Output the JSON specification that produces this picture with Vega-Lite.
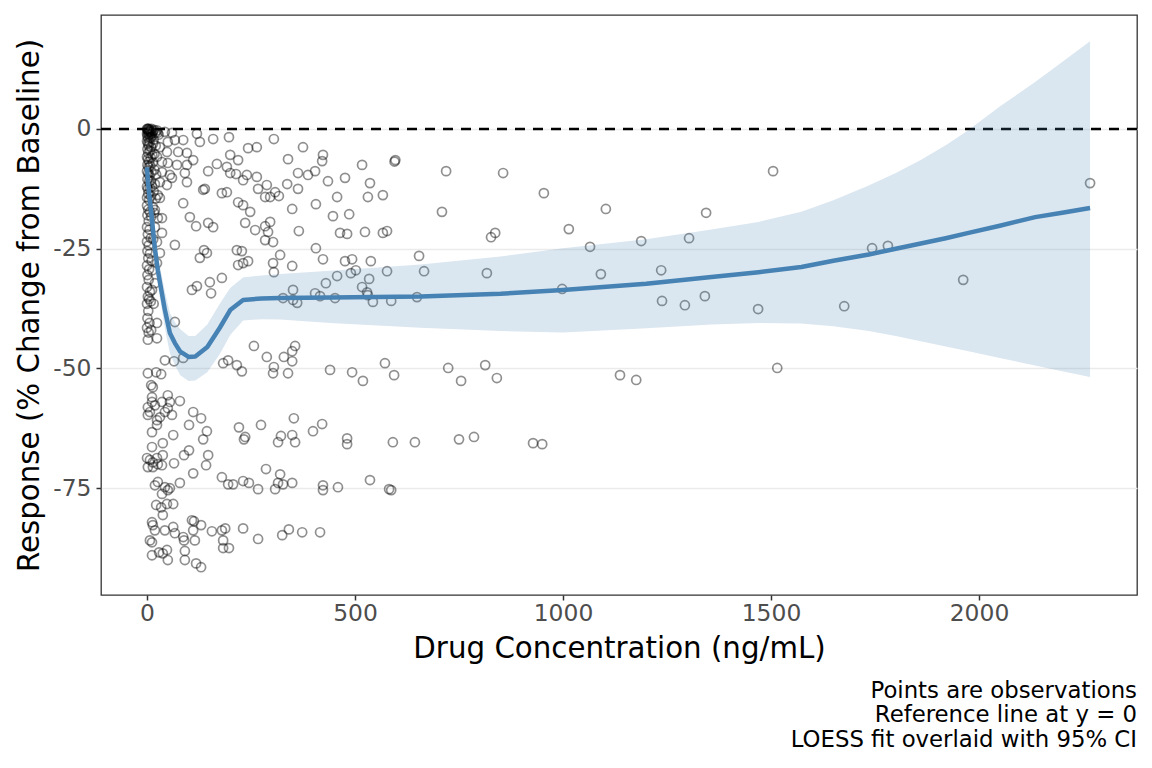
{
  "$schema": "https://vega.github.io/schema/vega-lite/v6.json",
  "width": 1036,
  "height": 580,
  "autosize": {"type": "none"},
  "padding": {"left": 101, "top": 15, "right": 15, "bottom": 173},
  "background": "white",
  "title": {
    "text": ["Points are observations", "Reference line at y = 0", "LOESS fit overlaid with 95% CI"],
    "orient": "bottom",
    "anchor": "end",
    "frame": "group",
    "font": "DejaVu Sans",
    "fontSize": 22.8,
    "fontWeight": "normal",
    "color": "#000000",
    "lineHeight": 24.5,
    "offset": 16
  },
  "datasets": {
    "ref": [{"ref": 0}],
    "fit": [
      {"conc": 0, "fit": -8, "lo": -10, "hi": -6},
      {"conc": 2.4, "fit": -11, "lo": -13, "hi": -9},
      {"conc": 7, "fit": -15, "lo": -17.3, "hi": -12.8},
      {"conc": 12, "fit": -19, "lo": -21.5, "hi": -16.5},
      {"conc": 19, "fit": -25, "lo": -27.8, "hi": -22.2},
      {"conc": 26, "fit": -29.5, "lo": -32.6, "hi": -26.4},
      {"conc": 43, "fit": -37.8, "lo": -41.6, "hi": -34},
      {"conc": 55, "fit": -42.6, "lo": -46.8, "hi": -38.4},
      {"conc": 67, "fit": -44.7, "lo": -49.3, "hi": -40.3},
      {"conc": 80, "fit": -46.5, "lo": -51.4, "hi": -41.8},
      {"conc": 100, "fit": -47.6, "lo": -52.6, "hi": -43.2},
      {"conc": 116, "fit": -47.5, "lo": -52.5, "hi": -43.2},
      {"conc": 145, "fit": -45.5, "lo": -50.8, "hi": -40.8},
      {"conc": 175, "fit": -41.5, "lo": -47, "hi": -36.5},
      {"conc": 200, "fit": -37.8, "lo": -43, "hi": -33.2},
      {"conc": 231, "fit": -35.7, "lo": -40, "hi": -31},
      {"conc": 275, "fit": -35.4, "lo": -39.7, "hi": -30.6},
      {"conc": 320, "fit": -35.3, "lo": -39.8, "hi": -30.3},
      {"conc": 441, "fit": -35.2, "lo": -40.5, "hi": -29.6},
      {"conc": 658, "fit": -35.0, "lo": -41.5, "hi": -28.3},
      {"conc": 850, "fit": -34.4, "lo": -42.2, "hi": -26.6},
      {"conc": 1000, "fit": -33.6, "lo": -42.5, "hi": -24.9},
      {"conc": 1200, "fit": -32.3, "lo": -41.6, "hi": -23.0},
      {"conc": 1357, "fit": -30.9, "lo": -40.8, "hi": -21.0},
      {"conc": 1470, "fit": -29.9, "lo": -40.5, "hi": -19.4},
      {"conc": 1573, "fit": -28.8, "lo": -40.6, "hi": -17.3},
      {"conc": 1650, "fit": -27.5, "lo": -41.2, "hi": -14.9},
      {"conc": 1735, "fit": -26.2, "lo": -42.2, "hi": -11.8},
      {"conc": 1800, "fit": -25.0, "lo": -43.2, "hi": -9.2},
      {"conc": 1860, "fit": -23.9, "lo": -44.3, "hi": -6.5},
      {"conc": 1920, "fit": -22.8, "lo": -45.4, "hi": -3.4},
      {"conc": 1975, "fit": -21.7, "lo": -46.4, "hi": -0.2},
      {"conc": 2050, "fit": -20.2, "lo": -47.8, "hi": 4.7},
      {"conc": 2135, "fit": -18.4, "lo": -49.4, "hi": 9.8},
      {"conc": 2200, "fit": -17.5, "lo": -50.6, "hi": 14},
      {"conc": 2267, "fit": -16.5, "lo": -51.8, "hi": 18.3}
    ],
    "obs": [
      {"conc": 0, "resp": 0}, {"conc": 1, "resp": 0}, {"conc": 2, "resp": -0.3}, {"conc": 3, "resp": 0}, {"conc": 4, "resp": -0.5},
      {"conc": 5, "resp": 0}, {"conc": 7, "resp": -0.2}, {"conc": 9, "resp": -0.6}, {"conc": 11, "resp": 0}, {"conc": 14, "resp": -0.4},
      {"conc": 17, "resp": -0.2}, {"conc": 20, "resp": -0.8}, {"conc": 0, "resp": -1}, {"conc": 1, "resp": -1.5}, {"conc": 3, "resp": -2},
      {"conc": 5, "resp": -1.2}, {"conc": 8, "resp": -1.8}, {"conc": 12, "resp": -1.5}, {"conc": 2, "resp": -0.8}, {"conc": 6, "resp": -0.5},
      {"conc": 10, "resp": -1}, {"conc": 24, "resp": -0.3}, {"conc": 28, "resp": -1.2},
      {"conc": 13, "resp": -0.8}, {"conc": 16, "resp": -2.2}, {"conc": 21, "resp": -3.5}, {"conc": 14, "resp": -7}, {"conc": 18, "resp": -5.2},
      {"conc": 22, "resp": -9.5}, {"conc": 17, "resp": -17.5}, {"conc": 21, "resp": -14.5}, {"conc": 15, "resp": -23}, {"conc": 13, "resp": -29.5},
      {"conc": 16, "resp": -36.5}, {"conc": 10, "resp": -42},
      {"conc": 0, "resp": -2.5}, {"conc": 2, "resp": -3}, {"conc": 4, "resp": -3.5}, {"conc": 6, "resp": -2.8}, {"conc": 1, "resp": -4.2},
      {"conc": 3, "resp": -5}, {"conc": 7, "resp": -4.5}, {"conc": 10, "resp": -3.8}, {"conc": 0, "resp": -5.8}, {"conc": 2, "resp": -6.3},
      {"conc": 5, "resp": -6.8}, {"conc": 9, "resp": -6}, {"conc": 13, "resp": -5.5}, {"conc": 1, "resp": -7.5}, {"conc": 4, "resp": -8},
      {"conc": 8, "resp": -7.7}, {"conc": 0, "resp": -8.8}, {"conc": 3, "resp": -9.3}, {"conc": 6, "resp": -9.7}, {"conc": 11, "resp": -9},
      {"conc": 1, "resp": -10.5}, {"conc": 5, "resp": -11}, {"conc": 9, "resp": -10.8}, {"conc": 0, "resp": -12}, {"conc": 2, "resp": -12.5},
      {"conc": 7, "resp": -12.3}, {"conc": 12, "resp": -12}, {"conc": 3, "resp": -13.5}, {"conc": 0, "resp": -14.3}, {"conc": 5, "resp": -14.8},
      {"conc": 9, "resp": -14}, {"conc": 16, "resp": -13}, {"conc": 18, "resp": -8.5}, {"conc": 15, "resp": -3}, {"conc": 19, "resp": -11.5},
      {"conc": 0, "resp": -16}, {"conc": 3, "resp": -16.8}, {"conc": 7, "resp": -17.3}, {"conc": 1, "resp": -18}, {"conc": 10, "resp": -18.3},
      {"conc": 4, "resp": -19.2}, {"conc": 0, "resp": -20.5}, {"conc": 6, "resp": -21}, {"conc": 2, "resp": -22}, {"conc": 9, "resp": -22.8},
      {"conc": 0, "resp": -23.5}, {"conc": 4, "resp": -24.3}, {"conc": 1, "resp": -25.5}, {"conc": 7, "resp": -26}, {"conc": 3, "resp": -27},
      {"conc": 0, "resp": -28.5}, {"conc": 5, "resp": -29.3}, {"conc": 11, "resp": -27.5},
      {"conc": 1, "resp": -30.5}, {"conc": 4, "resp": -31.5}, {"conc": 0, "resp": -33}, {"conc": 7, "resp": -34}, {"conc": 2, "resp": -35},
      {"conc": 5, "resp": -35.5}, {"conc": 0, "resp": -36.5}, {"conc": 9, "resp": -36}, {"conc": 3, "resp": -38}, {"conc": 1, "resp": -39.5},
      {"conc": 6, "resp": -40.5}, {"conc": 0, "resp": -41.5}, {"conc": 4, "resp": -42.5}, {"conc": 2, "resp": -44},
      {"conc": 26, "resp": -0.8}, {"conc": 43, "resp": -0.6}, {"conc": 60, "resp": -0.8}, {"conc": 50, "resp": -2.7}, {"conc": 67, "resp": -2.3},
      {"conc": 31, "resp": -3.8}, {"conc": 48, "resp": -4.8}, {"conc": 75, "resp": -4.8}, {"conc": 24, "resp": -5.8}, {"conc": 36, "resp": -6.9},
      {"conc": 50, "resp": -7.1}, {"conc": 72, "resp": -7.5}, {"conc": 36, "resp": -9.0}, {"conc": 55, "resp": -9.6}, {"conc": 60, "resp": -10.2},
      {"conc": 31, "resp": -11.1}, {"conc": 48, "resp": -11.7}, {"conc": 26, "resp": -13.8}, {"conc": 31, "resp": -14.4}, {"conc": 14, "resp": -16.3},
      {"conc": 19, "resp": -16.9}, {"conc": 26, "resp": -18.6}, {"conc": 36, "resp": -18.6}, {"conc": 19, "resp": -20.5}, {"conc": 36, "resp": -21.7},
      {"conc": 24, "resp": -23.6}, {"conc": 31, "resp": -25.9}, {"conc": 24, "resp": -28.0}, {"conc": 67, "resp": -24.2}, {"conc": 19, "resp": -32.2},
      {"conc": 12, "resp": -33.6}, {"conc": 24, "resp": -40.5}, {"conc": 67, "resp": -40.3}, {"conc": 24, "resp": -43.7},
      {"conc": 87, "resp": -2.3}, {"conc": 120, "resp": -1.0}, {"conc": 127, "resp": -2.7}, {"conc": 159, "resp": -2.1}, {"conc": 197, "resp": -1.7},
      {"conc": 243, "resp": -4.0}, {"conc": 264, "resp": -3.8}, {"conc": 305, "resp": -2.1}, {"conc": 375, "resp": -3.8}, {"conc": 423, "resp": -5.4},
      {"conc": 339, "resp": -6.3}, {"conc": 421, "resp": -6.7}, {"conc": 96, "resp": -5.0}, {"conc": 111, "resp": -6.5}, {"conc": 96, "resp": -7.5},
      {"conc": 168, "resp": -7.3}, {"conc": 200, "resp": -5.4}, {"conc": 219, "resp": -6.5}, {"conc": 192, "resp": -7.9}, {"conc": 200, "resp": -9.2},
      {"conc": 214, "resp": -9.4}, {"conc": 240, "resp": -9.6}, {"conc": 264, "resp": -10.0}, {"conc": 231, "resp": -10.7}, {"conc": 147, "resp": -8.8},
      {"conc": 91, "resp": -9.2}, {"conc": 96, "resp": -11.1}, {"conc": 363, "resp": -9.2}, {"conc": 387, "resp": -9.6}, {"conc": 404, "resp": -8.8},
      {"conc": 517, "resp": -7.5}, {"conc": 595, "resp": -6.8}, {"conc": 597, "resp": -6.5}, {"conc": 337, "resp": -11.5}, {"conc": 363, "resp": -12.5},
      {"conc": 435, "resp": -10.9}, {"conc": 476, "resp": -10.2}, {"conc": 536, "resp": -11.3}, {"conc": 267, "resp": -12.5}, {"conc": 288, "resp": -11.7},
      {"conc": 308, "resp": -13.2}, {"conc": 284, "resp": -14.2}, {"conc": 296, "resp": -14.2}, {"conc": 317, "resp": -14.0}, {"conc": 180, "resp": -13.4},
      {"conc": 192, "resp": -13.2}, {"conc": 139, "resp": -12.5}, {"conc": 135, "resp": -12.7}, {"conc": 457, "resp": -14.2}, {"conc": 531, "resp": -14.2},
      {"conc": 567, "resp": -13.8}, {"conc": 87, "resp": -15.5}, {"conc": 219, "resp": -15.3}, {"conc": 231, "resp": -15.9}, {"conc": 248, "resp": -17.3},
      {"conc": 349, "resp": -16.7}, {"conc": 406, "resp": -15.7}, {"conc": 447, "resp": -18.2}, {"conc": 486, "resp": -17.8}, {"conc": 103, "resp": -18.4},
      {"conc": 118, "resp": -20.3}, {"conc": 147, "resp": -19.6}, {"conc": 159, "resp": -20.5}, {"conc": 236, "resp": -19.6}, {"conc": 260, "resp": -21.1},
      {"conc": 284, "resp": -20.3}, {"conc": 296, "resp": -19.4}, {"conc": 291, "resp": -21.5}, {"conc": 284, "resp": -23.2}, {"conc": 303, "resp": -23.6},
      {"conc": 365, "resp": -21.3}, {"conc": 464, "resp": -21.7}, {"conc": 481, "resp": -21.9}, {"conc": 524, "resp": -21.5}, {"conc": 567, "resp": -21.7},
      {"conc": 577, "resp": -21.3}, {"conc": 127, "resp": -26.9}, {"conc": 137, "resp": -25.3}, {"conc": 144, "resp": -25.9}, {"conc": 216, "resp": -25.3},
      {"conc": 228, "resp": -25.5}, {"conc": 219, "resp": -28.4}, {"conc": 231, "resp": -28.0}, {"conc": 243, "resp": -27.6}, {"conc": 303, "resp": -28.0},
      {"conc": 305, "resp": -29.9}, {"conc": 320, "resp": -26.3}, {"conc": 349, "resp": -28.6}, {"conc": 406, "resp": -24.9}, {"conc": 423, "resp": -27.2},
      {"conc": 476, "resp": -27.6}, {"conc": 493, "resp": -27.2}, {"conc": 490, "resp": -30.1}, {"conc": 502, "resp": -29.5}, {"conc": 538, "resp": -27.6},
      {"conc": 577, "resp": -29.7}, {"conc": 457, "resp": -30.7}, {"conc": 430, "resp": -32.2}, {"conc": 517, "resp": -33.0}, {"conc": 534, "resp": -31.3},
      {"conc": 529, "resp": -34.1}, {"conc": 531, "resp": -34.7}, {"conc": 543, "resp": -36.1}, {"conc": 587, "resp": -35.9}, {"conc": 108, "resp": -33.6},
      {"conc": 120, "resp": -32.8}, {"conc": 151, "resp": -32.0}, {"conc": 154, "resp": -34.3}, {"conc": 180, "resp": -31.1}, {"conc": 327, "resp": -35.3},
      {"conc": 351, "resp": -33.6}, {"conc": 351, "resp": -35.7}, {"conc": 361, "resp": -36.3}, {"conc": 404, "resp": -34.3}, {"conc": 416, "resp": -34.9},
      {"conc": 452, "resp": -35.3},
      {"conc": 257, "resp": -45.3}, {"conc": 288, "resp": -47.6}, {"conc": 329, "resp": -47.6}, {"conc": 349, "resp": -46.4}, {"conc": 356, "resp": -45.3},
      {"conc": 349, "resp": -48.5}, {"conc": 183, "resp": -48.9}, {"conc": 195, "resp": -48.3}, {"conc": 216, "resp": -49.3}, {"conc": 228, "resp": -50.6},
      {"conc": 305, "resp": -49.7}, {"conc": 303, "resp": -51.0}, {"conc": 339, "resp": -51.0}, {"conc": 440, "resp": -50.3}, {"conc": 493, "resp": -50.8},
      {"conc": 519, "resp": -52.6}, {"conc": 572, "resp": -48.9}, {"conc": 594, "resp": -51.4}, {"conc": 87, "resp": -47.8},
      {"conc": 79, "resp": -56.8}, {"conc": 111, "resp": -59.1}, {"conc": 130, "resp": -60.4}, {"conc": 101, "resp": -61.8}, {"conc": 144, "resp": -63.1},
      {"conc": 135, "resp": -64.8}, {"conc": 221, "resp": -62.3}, {"conc": 274, "resp": -61.8}, {"conc": 236, "resp": -64.3}, {"conc": 233, "resp": -64.8},
      {"conc": 353, "resp": -60.4}, {"conc": 322, "resp": -64.1}, {"conc": 315, "resp": -65.4}, {"conc": 349, "resp": -63.9}, {"conc": 356, "resp": -65.4},
      {"conc": 399, "resp": -63.1}, {"conc": 421, "resp": -61.6}, {"conc": 481, "resp": -64.6}, {"conc": 481, "resp": -65.8}, {"conc": 591, "resp": -65.4},
      {"conc": 101, "resp": -67.1}, {"conc": 89, "resp": -68.1}, {"conc": 147, "resp": -68.1}, {"conc": 142, "resp": -70.2}, {"conc": 111, "resp": -71.9},
      {"conc": 180, "resp": -72.7}, {"conc": 195, "resp": -74.2}, {"conc": 207, "resp": -74.2}, {"conc": 231, "resp": -73.5}, {"conc": 245, "resp": -73.9},
      {"conc": 267, "resp": -75.2}, {"conc": 286, "resp": -71.0}, {"conc": 320, "resp": -72.1}, {"conc": 308, "resp": -75.2}, {"conc": 315, "resp": -73.9},
      {"conc": 327, "resp": -74.2}, {"conc": 349, "resp": -73.9}, {"conc": 423, "resp": -74.4}, {"conc": 423, "resp": -75.4}, {"conc": 459, "resp": -74.8},
      {"conc": 536, "resp": -73.3}, {"conc": 582, "resp": -75.2}, {"conc": 587, "resp": -75.4}, {"conc": 79, "resp": -73.9},
      {"conc": 108, "resp": -81.7}, {"conc": 113, "resp": -81.9}, {"conc": 130, "resp": -82.7}, {"conc": 111, "resp": -83.8}, {"conc": 87, "resp": -85.2},
      {"conc": 89, "resp": -85.9}, {"conc": 115, "resp": -85.9}, {"conc": 156, "resp": -84.0}, {"conc": 180, "resp": -83.8}, {"conc": 188, "resp": -83.4},
      {"conc": 183, "resp": -85.9}, {"conc": 183, "resp": -87.5}, {"conc": 197, "resp": -87.5}, {"conc": 231, "resp": -83.4}, {"conc": 267, "resp": -85.6},
      {"conc": 325, "resp": -84.8}, {"conc": 341, "resp": -83.6}, {"conc": 373, "resp": -84.2}, {"conc": 416, "resp": -84.2}, {"conc": 91, "resp": -88.1},
      {"conc": 91, "resp": -90.0}, {"conc": 118, "resp": -90.7}, {"conc": 130, "resp": -91.5},
      {"conc": 2, "resp": -51.0}, {"conc": 22, "resp": -50.8}, {"conc": 34, "resp": -51.2}, {"conc": 43, "resp": -48.3}, {"conc": 65, "resp": -48.5},
      {"conc": 10, "resp": -53.5}, {"conc": 14, "resp": -53.9}, {"conc": 12, "resp": -56.0}, {"conc": 12, "resp": -57.0}, {"conc": 2, "resp": -58.1},
      {"conc": 7, "resp": -59.1}, {"conc": 2, "resp": -59.7}, {"conc": 19, "resp": -57.7}, {"conc": 36, "resp": -57.0}, {"conc": 50, "resp": -55.6},
      {"conc": 55, "resp": -57.0}, {"conc": 50, "resp": -58.3}, {"conc": 43, "resp": -59.1}, {"conc": 31, "resp": -60.2}, {"conc": 24, "resp": -60.8},
      {"conc": 60, "resp": -59.7}, {"conc": 12, "resp": -63.3}, {"conc": 24, "resp": -61.8}, {"conc": 38, "resp": -65.6}, {"conc": 12, "resp": -66.4},
      {"conc": 63, "resp": -63.9}, {"conc": 0, "resp": -68.7}, {"conc": 7, "resp": -69.1}, {"conc": 14, "resp": -69.6}, {"conc": 24, "resp": -68.7},
      {"conc": 2, "resp": -70.6}, {"conc": 14, "resp": -70.6}, {"conc": 26, "resp": -70.0}, {"conc": 36, "resp": -70.2}, {"conc": 38, "resp": -68.1},
      {"conc": 65, "resp": -69.8}, {"conc": 19, "resp": -74.4}, {"conc": 26, "resp": -73.7}, {"conc": 43, "resp": -74.8}, {"conc": 50, "resp": -75.4},
      {"conc": 55, "resp": -75.0}, {"conc": 36, "resp": -76.2}, {"conc": 22, "resp": -78.5}, {"conc": 34, "resp": -79.0}, {"conc": 48, "resp": -78.3},
      {"conc": 63, "resp": -78.3}, {"conc": 38, "resp": -80.6}, {"conc": 12, "resp": -82.1}, {"conc": 14, "resp": -82.7}, {"conc": 19, "resp": -83.8},
      {"conc": 7, "resp": -85.9}, {"conc": 12, "resp": -86.3}, {"conc": 43, "resp": -83.8}, {"conc": 63, "resp": -83.1}, {"conc": 67, "resp": -84.4},
      {"conc": 12, "resp": -89.0}, {"conc": 29, "resp": -88.4}, {"conc": 38, "resp": -88.6}, {"conc": 48, "resp": -87.9}, {"conc": 50, "resp": -90.0},
      {"conc": 856, "resp": -9.2}, {"conc": 719, "resp": -8.8}, {"conc": 709, "resp": -17.3}, {"conc": 954, "resp": -13.4}, {"conc": 1103, "resp": -16.7},
      {"conc": 1014, "resp": -20.9}, {"conc": 827, "resp": -22.6}, {"conc": 837, "resp": -21.7}, {"conc": 1065, "resp": -24.6}, {"conc": 1188, "resp": -23.4},
      {"conc": 1303, "resp": -22.8}, {"conc": 654, "resp": -26.5}, {"conc": 666, "resp": -29.7}, {"conc": 817, "resp": -30.1}, {"conc": 1091, "resp": -30.3},
      {"conc": 1236, "resp": -29.5}, {"conc": 649, "resp": -35.1}, {"conc": 998, "resp": -33.4}, {"conc": 1238, "resp": -35.9}, {"conc": 1293, "resp": -36.8},
      {"conc": 724, "resp": -49.9}, {"conc": 755, "resp": -52.6}, {"conc": 813, "resp": -49.3}, {"conc": 841, "resp": -52.0}, {"conc": 1137, "resp": -51.4},
      {"conc": 1176, "resp": -52.4}, {"conc": 644, "resp": -65.4}, {"conc": 750, "resp": -64.8}, {"conc": 786, "resp": -64.3}, {"conc": 928, "resp": -65.6},
      {"conc": 950, "resp": -65.8}, {"conc": 1505, "resp": -8.8}, {"conc": 1344, "resp": -17.5}, {"conc": 1341, "resp": -34.9}, {"conc": 1469, "resp": -37.6},
      {"conc": 1676, "resp": -37.0}, {"conc": 1743, "resp": -24.9}, {"conc": 1781, "resp": -24.4}, {"conc": 1962, "resp": -31.5}, {"conc": 2267, "resp": -11.3},
      {"conc": 1515, "resp": -49.9}
    ]
  },
  "layer": [
    {
      "data": {"name": "ref"},
      "mark": {"type": "rule", "color": "#000000", "strokeWidth": 2.3, "strokeDash": [10, 8]},
      "encoding": {
        "y": {"field": "ref", "type": "quantitative", "title": "Response (% Change from Baseline)"}
      }
    },
    {
      "data": {"name": "obs"},
      "mark": {"type": "point", "shape": "circle", "filled": false, "stroke": "#000000", "strokeOpacity": 0.62, "strokeWidth": 1.7, "size": 82},
      "encoding": {
        "x": {
          "field": "conc", "type": "quantitative", "title": "Drug Concentration (ng/mL)",
          "scale": {"domain": [-110.6, 2379.8], "nice": false, "zero": false},
          "axis": {"values": [0, 500, 1000, 1500, 2000], "format": "d", "grid": false, "labelPadding": 2, "titlePadding": 10}
        },
        "y": {
          "field": "resp", "type": "quantitative", "title": "Response (% Change from Baseline)",
          "scale": {"domain": [-97.3, 23.8], "nice": false, "zero": false},
          "axis": {"values": [-75, -50, -25, 0], "grid": true, "labelPadding": 5, "titlePadding": 8, "labelExpr": "replace(datum.label, '\u2212', '-')"}
        }
      }
    },
    {
      "data": {"name": "fit"},
      "mark": {"type": "area", "color": "#4682B4", "opacity": 0.2},
      "encoding": {
        "x": {"field": "conc", "type": "quantitative", "title": "Drug Concentration (ng/mL)"},
        "y": {"field": "lo", "type": "quantitative", "title": "Response (% Change from Baseline)"},
        "y2": {"field": "hi"}
      }
    },
    {
      "data": {"name": "fit"},
      "mark": {"type": "line", "color": "#4682B4", "strokeWidth": 4.5, "strokeJoin": "round"},
      "encoding": {
        "x": {"field": "conc", "type": "quantitative", "title": "Drug Concentration (ng/mL)"},
        "y": {"field": "fit", "type": "quantitative", "title": "Response (% Change from Baseline)"}
      }
    }
  ],
  "config": {
    "font": "DejaVu Sans",
    "view": {"stroke": "#333333", "strokeWidth": 1.3},
    "axis": {
      "labelFont": "DejaVu Sans",
      "titleFont": "DejaVu Sans",
      "labelFontSize": 23.4,
      "titleFontSize": 29.3,
      "titleFontWeight": "normal",
      "labelColor": "#4D4D4D",
      "titleColor": "#000000",
      "tickColor": "#333333",
      "tickSize": 5,
      "tickWidth": 1.5,
      "domain": false,
      "gridColor": "#EBEBEB",
      "gridWidth": 1.5
    }
  }
}
